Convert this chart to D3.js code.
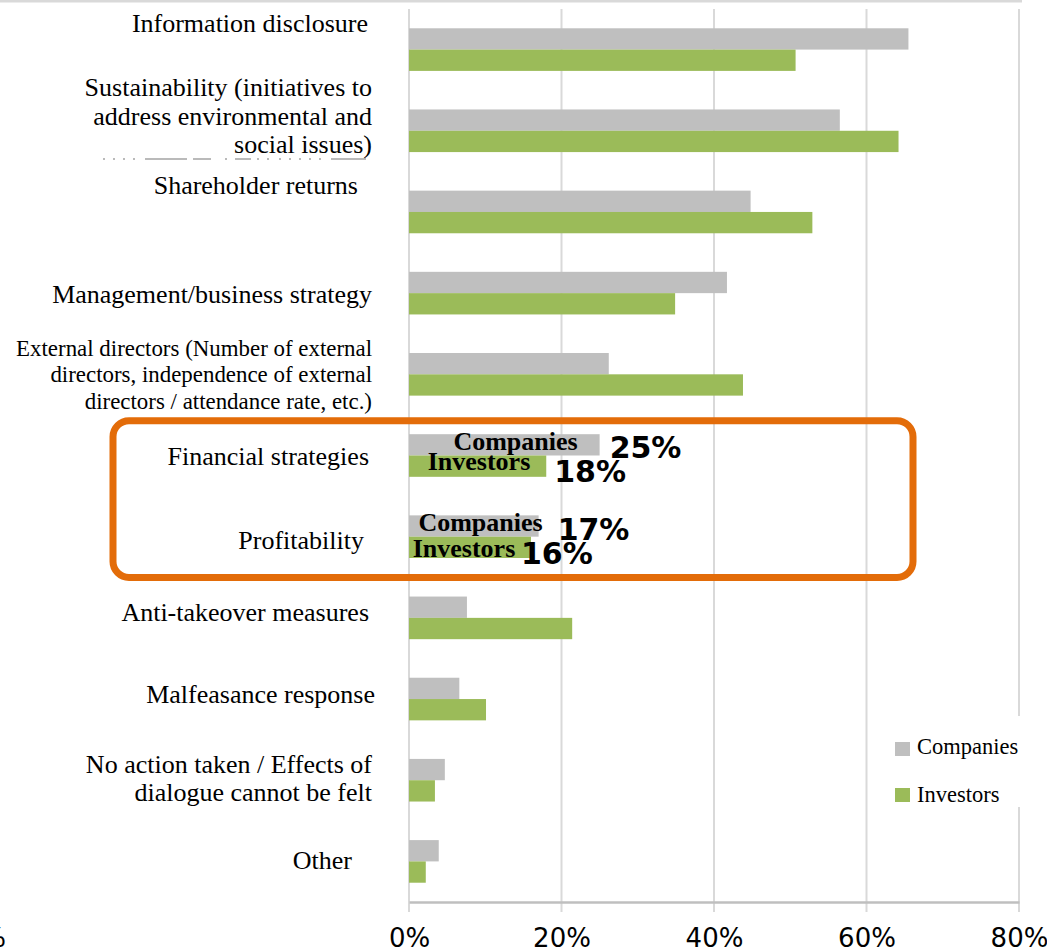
<!DOCTYPE html>
<html>
<head>
<meta charset="utf-8">
<script src="https://cdn.jsdelivr.net/npm/d3@7"></script>
<style>
  html, body { margin: 0; padding: 0; background: #fff; }
  svg { display: block; }
</style>
</head>
<body>
<svg id="chart" width="1047" height="948"></svg>
<script>
// Topics where dialogue produced an effect (% of respondents)
const categories = [
  "Information disclosure",
  "Sustainability (initiatives to|address environmental and|social issues)",
  "Shareholder returns",
  "Management/business strategy",
  "External directors (Number of external|directors, independence of external|directors / attendance rate, etc.)",
  "Financial strategies",
  "Profitability",
  "Anti-takeover measures",
  "Malfeasance response",
  "No action taken / Effects of|dialogue cannot be felt",
  "Other"
];
const seriesNames = ["Companies", "Investors"];
const companies = [65.5, 56.5, 44.8, 41.7, 26.2, 25, 17, 7.6, 6.6, 4.7, 3.9];
const investors = [50.7, 64.2, 52.9, 34.9, 43.8, 18, 16, 21.4, 10.1, 3.4, 2.2];
const xTicks = [0, 20, 40, 60, 80];
const highlighted = ["Financial strategies", "Profitability"];

const colors = { Companies: "#BFBFBF", Investors: "#9BBB59" };
const serif = "'Liberation Serif', 'Times New Roman', serif";
const sans = "'DejaVu Sans', Verdana, sans-serif";

const svg = d3.select("#chart");
const plot = { left: 409, right: 1019, top: 9, bottom: 902 };

const x = d3.scaleLinear().domain([0, 80]).range([plot.left, plot.right]);
const y = d3.scaleBand().domain(categories).range([plot.top, plot.bottom])
  .paddingInner(0.475).paddingOuter(0.2375);
const ySub = d3.scaleBand().domain(seriesNames).range([0, y.bandwidth()]);

const rows = categories.map((c, i) => ({ cat: c, Companies: companies[i], Investors: investors[i] }));

// thin frame line along the top edge
svg.append("line")
  .attr("x1", 0).attr("x2", 1022).attr("y1", 1.2).attr("y2", 1.2)
  .attr("stroke", "#D9D9D9").attr("stroke-width", 2.5);

// vertical gridlines (extend past the axis as tick marks)
svg.append("g").selectAll("line").data(xTicks).join("line")
  .attr("x1", d => x(d)).attr("x2", d => x(d))
  .attr("y1", plot.top).attr("y2", plot.bottom + 10)
  .attr("stroke", "#D9D9D9").attr("stroke-width", 2);

// bars
const groups = svg.append("g").selectAll("g").data(rows).join("g")
  .attr("transform", d => `translate(0,${y(d.cat)})`);
groups.selectAll("rect").data(d => seriesNames.map(s => ({ s, v: d[s] }))).join("rect")
  .attr("x", x(0))
  .attr("y", d => ySub(d.s))
  .attr("width", d => x(d.v) - x(0))
  .attr("height", ySub.bandwidth())
  .attr("fill", d => colors[d.s]);

// x axis
const xAxis = d3.axisBottom(x).tickValues(xTicks).tickFormat(d => d + "%").tickSize(0).tickPadding(0);
const axisG = svg.append("g").attr("transform", `translate(0,${plot.bottom})`).call(xAxis);
axisG.select(".domain").attr("stroke", "#BFBFBF").attr("stroke-width", 2.5);
axisG.selectAll("text")
  .attr("y", 45).attr("dy", 0)
  .attr("font-family", sans).attr("font-size", 26).attr("fill", "#000");

// stray percent sign at the lower-left edge
svg.append("text").attr("x", 6).attr("y", 947).attr("text-anchor", "end")
  .attr("font-family", sans).attr("font-size", 26).text("%");

// category labels
const labelLayout = {
  "Information disclosure": { right: 368, dy: -26.5 },
  "Sustainability (initiatives to|address environmental and|social issues)": { right: 372, dy: -14.4, lh: 28.5 },
  "Shareholder returns": { right: 358, dy: -27 },
  "Management/business strategy": { right: 372, dy: 1.3 },
  "External directors (Number of external|directors, independence of external|directors / attendance rate, etc.)": { right: 372, dy: 0.5, lh: 26.7, fs: 22.9 },
  "Financial strategies": { right: 369, dy: 0.5 },
  "Profitability": { right: 364, dy: 3.5 },
  "Anti-takeover measures": { right: 369, dy: -5.4 },
  "Malfeasance response": { right: 375, dy: -4.6 },
  "No action taken / Effects of|dialogue cannot be felt": { right: 372, dy: -1.5, lh: 28 },
  "Other": { right: 352, dy: -1 }
};
const labelG = svg.append("g");
categories.forEach(c => {
  const L = labelLayout[c];
  const fs = L.fs || 26, lh = L.lh || 28;
  const lines = c.split("|");
  const cy = y(c) + y.bandwidth() / 2 + L.dy;
  const t = labelG.append("text")
    .attr("font-family", serif).attr("font-size", fs).attr("fill", "#000")
    .attr("text-anchor", "end");
  lines.forEach((ln, i) => {
    t.append("tspan").attr("x", L.right)
      .attr("y", cy + (i - (lines.length - 1) / 2) * lh + 0.33 * fs)
      .text(ln);
  });
});

// clipped remnant of a covered caption line under the sustainability label
svg.append("line")
  .attr("x1", 103).attr("x2", 366).attr("y1", 159).attr("y2", 159)
  .attr("stroke", "#777").attr("stroke-width", 1.1)
  .attr("stroke-dasharray", "2 8 2 8 2 8 2 10 42 6 18 14 2 8 16 6 2 8 2 10 2 8");

// highlighted categories: inline series names and value callouts
const callouts = {
  "Financial strategies": {
    Companies: { nameX: 515.5, nameDy: 5, valDx: 10, valDy: 13 },
    Investors: { nameX: 479, nameDy: 4, valDx: 8, valDy: 16 }
  },
  "Profitability": {
    Companies: { nameX: 480.5, nameDy: 5, valDx: 19, valDy: 14 },
    Investors: { nameX: 464, nameDy: 10, valDx: -10, valDy: 16.6 }
  }
};
const annG = svg.append("g");
highlighted.forEach(c => {
  const row = rows.find(r => r.cat === c);
  seriesNames.forEach(s => {
    const a = callouts[c][s];
    const cy = y(c) + ySub(s) + ySub.bandwidth() / 2;
    annG.append("text").attr("x", a.nameX).attr("y", cy + a.nameDy)
      .attr("text-anchor", "middle").attr("font-family", serif)
      .attr("font-weight", "bold").attr("font-size", 26).attr("fill", "#000")
      .text(s);
    annG.append("text").attr("x", x(row[s]) + a.valDx).attr("y", cy + a.valDy)
      .attr("font-family", sans).attr("font-weight", "bold")
      .attr("font-size", 30).attr("fill", "#000")
      .text(d3.format(".0f")(row[s]) + "%");
  });
});

// orange frame around the highlighted categories
const hTop = y(highlighted[0]), hBot = y(highlighted[1]) + y.bandwidth();
svg.append("rect")
  .attr("x", 113).attr("y", hTop - 13.5)
  .attr("width", 800).attr("height", hBot - hTop + 33)
  .attr("rx", 16).attr("ry", 16)
  .attr("fill", "none").attr("stroke", "#E36C09").attr("stroke-width", 7);

// legend
const leg = svg.append("g");
leg.append("rect").attr("x", 878).attr("y", 716).attr("width", 152).attr("height", 91).attr("fill", "#fff");
seriesNames.forEach((s, i) => {
  leg.append("rect").attr("x", 895).attr("y", 742 + i * 46).attr("width", 15).attr("height", 14)
    .attr("fill", colors[s]);
  leg.append("text").attr("x", 917).attr("y", 754 + i * 48)
    .attr("font-family", serif).attr("font-size", 22.5).attr("fill", "#000").text(s);
});
</script>
</body>
</html>
